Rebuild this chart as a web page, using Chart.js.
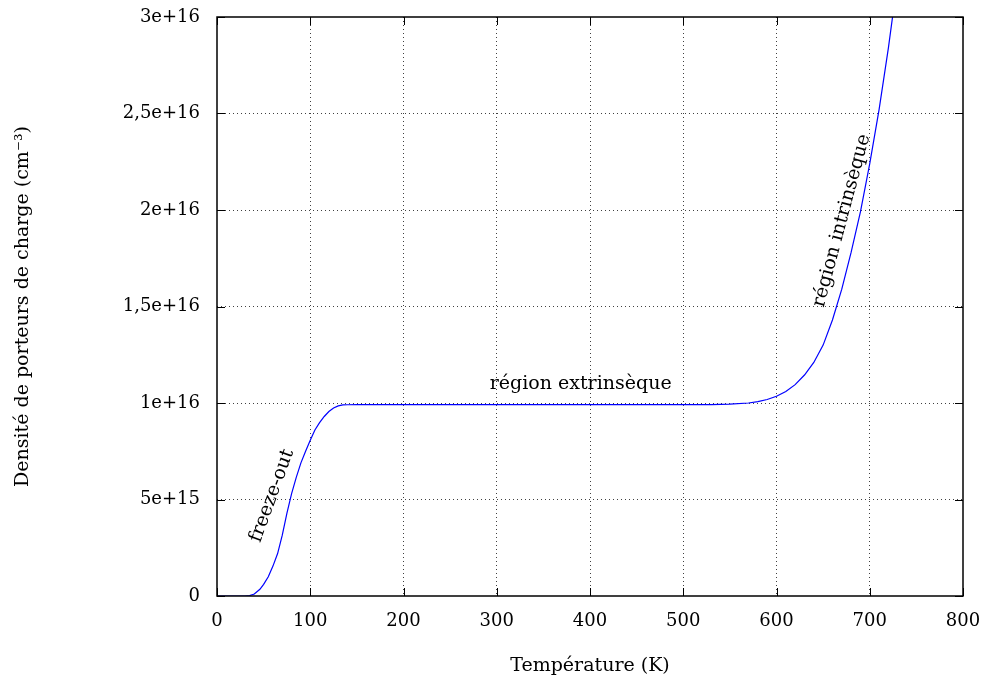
<!DOCTYPE html>
<html>
<head>
<meta charset="utf-8">
<script src="https://cdn.jsdelivr.net/npm/chart.js@4.4.1/dist/chart.umd.min.js"></script>
<style>
  html, body { margin: 0; padding: 0; background: #fff; }
  #wrap { width: 986px; height: 681px; }
</style>
</head>
<body>
<div id="wrap"><canvas id="chartDensite"></canvas></div>
<script>
/* ──── Données ────────────────────────────────────────── */

const temperatures = [
  0, 10, 20, 30, 35, 40, 46, 50, 55, 60, 65, 70, 75, 80, 85, 90, 95, 100, 105, 110, 115, 120, 125, 130, 135, 140, 150,
  200, 300, 400, 500, 530, 550, 570, 580, 590, 600, 610, 620, 630, 640, 650, 660, 670, 680, 690, 700, 710, 720, 730, 740,
];
const densites = [
  0, 0, 0, 0, 0.02e15, 0.1e15, 0.35e15, 0.6e15, 1.0e15, 1.55e15, 2.2e15, 3.15e15, 4.3e15, 5.3e15, 6.15e15, 6.9e15, 7.5e15, 8.07e15, 8.6e15, 8.98e15, 9.3e15, 9.56e15, 9.74e15, 9.85e15, 9.9e15, 9.91e15, 9.92e15,
  9.92e15, 9.92e15, 9.92e15, 9.92e15, 9.92e15, 9.94e15, 10.0e15, 10.07e15, 10.18e15, 10.35e15, 10.6e15, 10.95e15, 11.45e15, 12.1e15, 13.0e15, 14.3e15, 15.9e15, 17.8e15, 19.9e15, 22.4e15, 25.2e15, 28.4e15, 32e15, 36e15,
];
const yTickLabels = ['0', '5e+15', '1e+16', '1,5e+16', '2e+16', '2,5e+16', '3e+16'];

const annotations = [
  { text: 'freeze-out',          x: 59,  y: 5.2e15,   angle: -70 },
  { text: 'région extrinsèque',  x: 390, y: 10.97e15, angle: 0 },
  { text: 'région intrinsèque',  x: 670, y: 19.45e15, angle: -75 },
];

const FONT = '"DejaVu Serif", "Liberation Serif", serif';

/* ──── Plugin : cadre, petites graduations, étiquettes ── */

const gnuplotFrame = {
  id: 'gnuplotFrame',
  afterDatasetsDraw(chart) {
    const { ctx, chartArea: a, scales: { x, y } } = chart;
    ctx.save();
    ctx.strokeStyle = '#000';
    ctx.lineWidth = 1.5;
    ctx.strokeRect(a.left, a.top, a.right - a.left, a.bottom - a.top);

    ctx.lineWidth = 1;
    ctx.beginPath();
    x.ticks.forEach(t => {
      const px = Math.round(x.getPixelForValue(t.value)) + 0.5;
      ctx.moveTo(px, a.bottom); ctx.lineTo(px, a.bottom - 8);
      ctx.moveTo(px, a.top);    ctx.lineTo(px, a.top + 8);
    });
    y.ticks.forEach(t => {
      const py = Math.round(y.getPixelForValue(t.value)) + 0.5;
      ctx.moveTo(a.left, py);  ctx.lineTo(a.left + 8, py);
      ctx.moveTo(a.right, py); ctx.lineTo(a.right - 8, py);
    });
    ctx.stroke();

    ctx.fillStyle = '#000';
    ctx.font = '19px ' + FONT;
    ctx.textAlign = 'center';
    ctx.textBaseline = 'middle';
    annotations.forEach(n => {
      ctx.save();
      ctx.translate(x.getPixelForValue(n.x), y.getPixelForValue(n.y));
      ctx.rotate(n.angle * Math.PI / 180);
      ctx.fillText(n.text, 0, 0);
      ctx.restore();
    });
    ctx.restore();
  },
};

/* ──── Graphique ──────────────────────────────────────── */

const gridStyle = {
  color: ctx => (ctx.index === 0 || ctx.tick.value === ctx.scale.max) ? 'rgba(0,0,0,0)' : 'rgba(0,0,0,0.75)',
  lineWidth: 1,
  drawTicks: false,
};

new Chart(document.getElementById('chartDensite').getContext('2d'), {
  type: 'line',
  data: {
    datasets: [{
      data: temperatures.map((t, i) => ({ x: t, y: densites[i] })),
      borderColor: '#0000ff',
      borderWidth: 1.2,
      pointRadius: 0,
      tension: 0,
      fill: false,
    }],
  },
  options: {
    responsive: true,
    maintainAspectRatio: false,
    animation: false,
    layout: { padding: { top: 17, right: 23, left: 0, bottom: 0 } },
    plugins: { legend: { display: false }, tooltip: { enabled: false } },
    scales: {
      x: {
        type: 'linear',
        min: 0, max: 800,
        ticks: { stepSize: 100, color: '#000', padding: 15, font: { family: FONT, size: 18 } },
        grid: gridStyle,
        border: { display: false, dash: [1, 3] },
        title: { display: true, text: 'Température (K)', color: '#000', padding: { top: 16 }, font: { family: FONT, size: 19 } },
        afterFit: s => { s.height = 85; s.paddingLeft = 0; s.paddingRight = 0; },
      },
      y: {
        type: 'linear',
        min: 0, max: 3e16,
        ticks: {
          stepSize: 5e15, color: '#000', padding: 17,
          font: { family: FONT, size: 18 },
          callback: (v, i) => yTickLabels[i],
        },
        grid: gridStyle,
        border: { display: false, dash: [1, 3] },
        title: { display: true, text: 'Densité de porteurs de charge (cm⁻³)', color: '#000', padding: { top: 12, bottom: 0 }, font: { family: FONT, size: 19 } },
        afterFit: s => { s.width = 217; s.paddingTop = 0; s.paddingBottom = 0; },
      },
    },
  },
  plugins: [gnuplotFrame],
});
</script>
</body>
</html>
